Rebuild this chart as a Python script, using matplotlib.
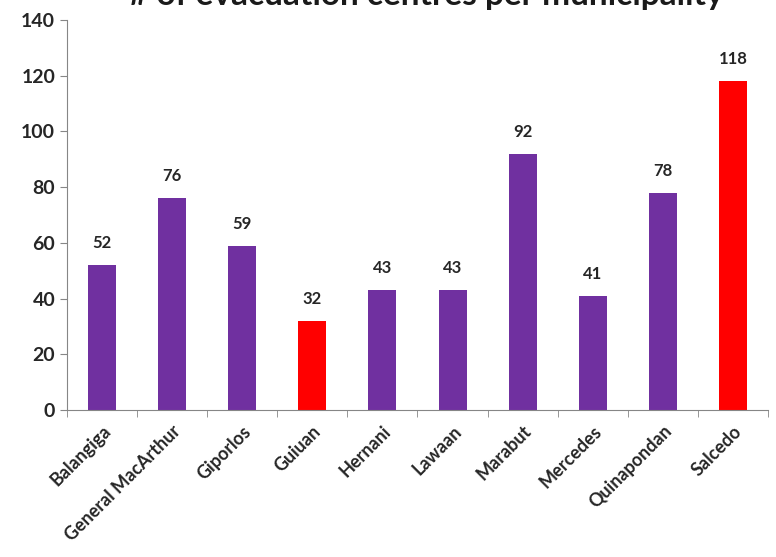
import matplotlib.pyplot as plt

municipalities = ['Balangiga', 'General MacArthur', 'Giporlos', 'Guiuan', 'Hernani',
                  'Lawaan', 'Marabut', 'Mercedes', 'Quinapondan', 'Salcedo']
centres = [52, 76, 59, 32, 43, 43, 92, 41, 78, 118]
highlight = ['Guiuan', 'Salcedo']

plt.rcParams['font.family'] = ['Lato', 'DejaVu Sans']

fig = plt.figure(figsize=(7.76, 5.57), dpi=100)
ax = fig.add_axes([0.0863, 0.2639, 0.9034, 0.7002])

colors = ['#ff0000' if m in highlight else '#7030a0' for m in municipalities]
x = range(len(municipalities))
bars = ax.bar(x, centres, width=0.4, color=colors)

for i, v in enumerate(centres):
    ax.text(i, v + 5, str(v), ha='center', va='bottom', fontsize=12, fontweight='bold',
            color='#262626')

ax.set_ylim(0, 140)
ax.set_yticks(range(0, 141, 20))
ax.set_xlim(-0.5, len(municipalities) - 0.5)
ax.set_xticks(list(x))
ax.set_xticklabels(municipalities, rotation=45, ha='right', rotation_mode='anchor',
                   fontsize=13, fontweight='bold', color='#262626')
ax.set_xticks([i - 0.5 for i in range(len(municipalities) + 1)], minor=True)
ax.tick_params(axis='x', which='major', length=0, pad=9)
ax.tick_params(axis='x', which='minor', length=5, color='#868686')
ax.tick_params(axis='y', length=5, color='#868686', labelsize=14, labelcolor='#262626')
for lab in ax.get_yticklabels():
    lab.set_fontweight('bold')

for s in ['top', 'right']:
    ax.spines[s].set_visible(False)
for s in ['left', 'bottom']:
    ax.spines[s].set_color('#868686')

fig.text(0.55, 1 - 5 / 557, '# of evacuation centres per municipality', ha='center',
         va='baseline', fontsize=24, fontweight='bold', color='#1a1a1a')

fig.savefig('out.png', dpi=100)
